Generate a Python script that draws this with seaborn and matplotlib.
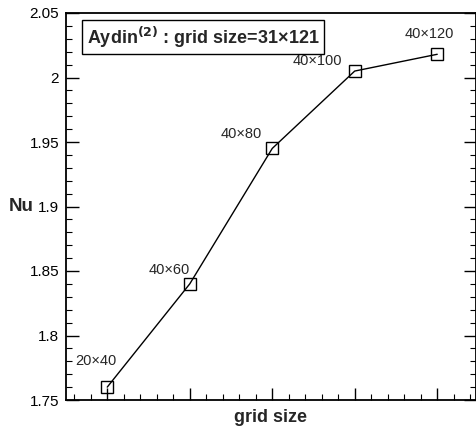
import matplotlib
matplotlib.use("Agg")
import matplotlib.pyplot as plt
from matplotlib.ticker import AutoMinorLocator
import seaborn as sns
import pandas as pd

grid_labels = ["20×40", "40×60", "40×80", "40×100", "40×120"]
grid_index = [1, 2, 3, 4, 5]
nu_values = [1.760, 1.840, 1.945, 2.005, 2.018]
label_offsets_px = [(-11, 26), (-20, 14), (-31, 14), (-37, 10), (-8, 20)]

sns.set_style("ticks")
plt.rcParams['font.family'] = ['Liberation Sans', 'DejaVu Sans']

df = pd.DataFrame({"grid": grid_index, "Nu": nu_values})

fig = plt.figure(figsize=(4.77, 4.28), dpi=100)
ax = fig.add_axes([66/477, 28/428, 410/477, 387/428])

sns.lineplot(data=df, x="grid", y="Nu", ax=ax, color="black", linewidth=1.0,
             marker="s", markersize=8, markerfacecolor="none",
             markeredgecolor="black", markeredgewidth=1.0)

for xv, yv, lab, off in zip(grid_index, nu_values, grid_labels, label_offsets_px):
    ax.annotate(lab, (xv, yv), xytext=off, textcoords="offset pixels",
                ha="center", va="center", fontsize=10.5)

ax.set_xlim(0.5, 5.47)
ax.set_ylim(1.75, 2.05)
ax.set_xticks(grid_index)
ax.set_xticklabels([])
ax.xaxis.set_minor_locator(AutoMinorLocator(5))
ax.set_yticks([1.75, 1.8, 1.85, 1.9, 1.95, 2.0, 2.05])
ax.set_yticklabels(["1.75", "1.8", "1.85", "1.9", "1.95", "2", "2.05"])
ax.yaxis.set_minor_locator(AutoMinorLocator(5))
ax.tick_params(axis="both", which="major", direction="in", length=9, width=1.0,
               labelsize=11, color="black", labelcolor="black", right=True, top=False)
ax.tick_params(axis="both", which="minor", direction="in", length=4.5, width=0.8,
               color="black", right=True, top=False)
ax.tick_params(axis="y", pad=5)

for s in ax.spines.values():
    s.set_visible(True)
    s.set_linewidth(1.3)
    s.set_color("black")

ax.set_xlabel("grid size", fontsize=13, fontweight="bold", va="center")
ax.xaxis.set_label_coords(0.5, (400 - 417) / 387)
ax.set_ylabel("Nu", fontsize=13.5, fontweight="bold", rotation=0, ha="center", va="center")
ax.yaxis.set_label_coords((21 - 66) / 410, 0.50)

box = ax.text((87 - 66) / 410, (400 - 37) / 387,
              "Aydin$^{\\mathbf{(2)}}$ : grid size=31×121",
              transform=ax.transAxes, fontsize=13, fontweight="bold",
              ha="left", va="center",
              bbox=dict(boxstyle="square,pad=0.25", facecolor="white",
                        edgecolor="black", linewidth=1.0))

fig.savefig("out.png", dpi=100)
